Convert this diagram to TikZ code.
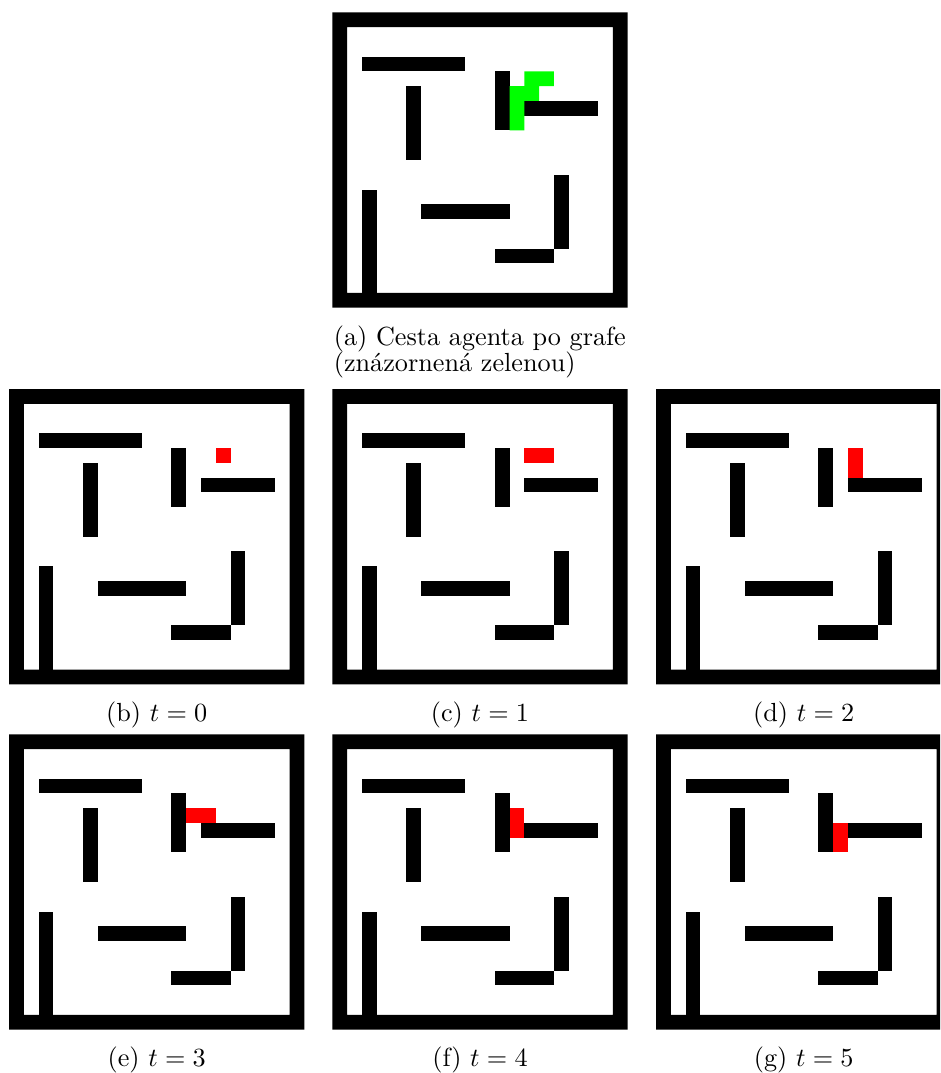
\documentclass[tikz,border=0pt]{standalone}
\usepackage{fontspec}
\definecolor{pathgreen}{RGB}{0,255,0}
\definecolor{agentred}{RGB}{255,0,0}
\tikzset{
  wall/.style={fill=black},
  agent/.style={fill=agentred},
  trail/.style={fill=pathgreen},
  captext/.style={inner sep=0pt, font=\normalsize},
}
\newcommand\mazewalls{%
  \fill[wall,even odd rule] (0,0) rectangle (20,20) (1,1) rectangle (19,19);
  \fill[wall] (2,3) rectangle (9,4);
  \fill[wall] (5,5) rectangle (6,10);
  \fill[wall] (11,4) rectangle (12,8);
  \fill[wall] (13,6) rectangle (18,7);
  \fill[wall] (15,11) rectangle (16,16);
  \fill[wall] (11,16) rectangle (15,17);
  \fill[wall] (6,13) rectangle (12,14);
  \fill[wall] (2,12) rectangle (3,19);
}
\begin{document}
\begin{tikzpicture}[x=0.3817pt,y=-0.3817pt]
  \useasboundingbox (0,0) rectangle (940,1073);
  \clip (0,0) rectangle (940,1073);
  \fill[white] (0,0) rectangle (940,1073);
  % (a)
  \begin{scope}[shift={(332.3,12.3)},x=5.638pt,y=-5.638pt]
    \mazewalls
    \fill[trail] (13,4) -- (15,4) -- (15,5) -- (14,5) -- (14,6) -- (13,6) -- (13,8) -- (12,8) -- (12,5) -- (13,5) -- cycle;
  \end{scope}
  % (b) t=0
  \begin{scope}[shift={(9,389)},x=5.638pt,y=-5.638pt]
    \mazewalls
    \fill[agent] (14,4) rectangle (15,5);
  \end{scope}
  % (c) t=1
  \begin{scope}[shift={(332.3,389)},x=5.638pt,y=-5.638pt]
    \mazewalls
    \fill[agent] (13,4) rectangle (15,5);
  \end{scope}
  % (d) t=2
  \begin{scope}[shift={(656,389)},x=5.638pt,y=-5.638pt]
    \mazewalls
    \fill[agent] (13,4) rectangle (14,6);
  \end{scope}
  % (e) t=3
  \begin{scope}[shift={(9,734.3)},x=5.638pt,y=-5.638pt]
    \mazewalls
    \fill[agent] (12,5) rectangle (14,6);
  \end{scope}
  % (f) t=4
  \begin{scope}[shift={(332.3,734.3)},x=5.638pt,y=-5.638pt]
    \mazewalls
    \fill[agent] (12,5) rectangle (13,7);
  \end{scope}
  % (g) t=5
  \begin{scope}[shift={(656,734.3)},x=5.638pt,y=-5.638pt]
    \mazewalls
    \fill[agent] (12,6) rectangle (13,8);
  \end{scope}
  % captions
  \node[captext,anchor=base west] (capa1) at (333.3,345) {(a) Cesta agenta po grafe};
  \node[captext,anchor=base west] (capa2) at (333.3,371.7) {(znázornená zelenou)};
  \node[captext,anchor=base] (capb) at (156.7,721) {(b) $t=0$};
  \node[captext,anchor=base] (capc) at (480,721) {(c) $t=1$};
  \node[captext,anchor=base] (capd) at (803.7,721) {(d) $t=2$};
  \node[captext,anchor=base] (cape) at (156.7,1066.5) {(e) $t=3$};
  \node[captext,anchor=base] (capf) at (480,1066.5) {(f) $t=4$};
  \node[captext,anchor=base] (capg) at (803.7,1066.5) {(g) $t=5$};
\end{tikzpicture}
\end{document}
